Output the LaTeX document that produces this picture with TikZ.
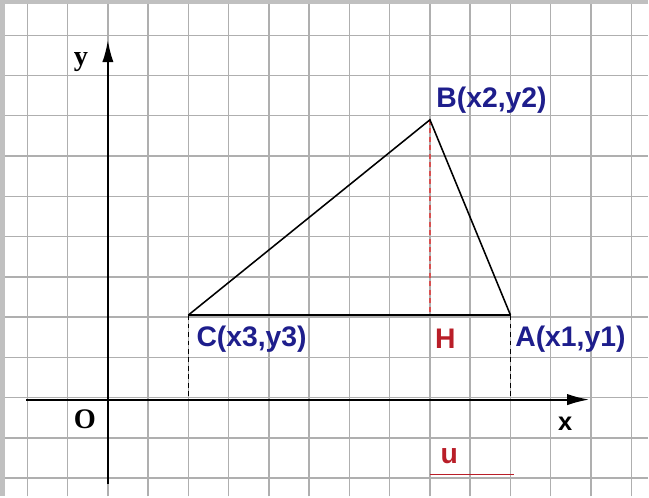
\documentclass[tikz,border=0pt]{standalone}
\usepackage{fontspec}
\setmainfont{Liberation Sans}
\newfontfamily\axisfont{Liberation Serif}
\usepackage{tikz}
\usetikzlibrary{arrows.meta}
\definecolor{gridgray}{RGB}{175,175,175}
\definecolor{framegray}{RGB}{192,192,192}
\definecolor{ptblue}{RGB}{30,30,140}
\definecolor{htred}{RGB}{185,30,40}
\definecolor{dashred}{RGB}{215,80,80}

\begin{document}
\begin{tikzpicture}[x=1cm,y=1cm,
  gridline/.style={gridgray,line width=1pt},
  axis/.style={line width=1.4pt,-{Latex[length=5.5mm,width=2.8mm]}},
  side/.style={line width=1.1pt},
  drop/.style={dash pattern=on 3.5pt off 2.5pt,line width=1.2pt},
  ptlabel/.style={ptblue,font=\fontsize{20}{24}\selectfont\bfseries,inner sep=0pt},
  redlabel/.style={htred,font=\fontsize{20}{24}\selectfont\bfseries,inner sep=0pt},
  axislabel/.style={font=\fontsize{20}{24}\selectfont\axisfont\bfseries,inner sep=0pt}]
  % paper
  \fill[framegray] (-2.68,-2.407) rectangle (13.424,9.926);
  \fill[white] (-2.556,-2.407) rectangle (13.424,9.826);
  \foreach \i in {-2,...,13}
    \draw[gridline] (\i,-2.407) -- (\i,9.826);
  \foreach \j in {-2,...,9}
    \draw[gridline] (-2.556,\j+0.05) -- (13.424,\j+0.05);
  % axes
  \coordinate (O) at (0,0);
  \coordinate (xl) at (-2.03,0);
  \coordinate (xr) at (11.96,0);
  \coordinate (yb) at (0,-2.1);
  \coordinate (yt) at (0,8.93);
  \draw[axis] (xl) -- (xr);
  \draw[axis] (yb) -- (yt);
  % triangle
  \coordinate (C) at (2,2.1);
  \coordinate (A) at (10,2.1);
  \coordinate (B) at (8,6.95);
  \coordinate (H) at (8,2.1);
  \draw[drop] (C) -- (C |- O);
  \draw[drop] (A) -- (A |- O);
  \draw[drop,dashred] (B) -- (H);
  \draw[side] (C) -- (B) -- (A);
  \draw[line width=1.4pt] (C) -- (A);
  % height
  \coordinate (U1) at (8,-1.86);
  \coordinate (U2) at (10.1,-1.86);
  \draw[htred,line width=1.1pt] (U1) -- (U2);
  % labels
  \node[axislabel] (ylab) at (-0.67,8.39) {y};
  \node[axislabel] (olab) at (-0.57,-0.5) {O};
  \node[font=\fontsize{18}{20}\selectfont\bfseries,inner sep=0pt] (xlab) at (11.36,-0.6) {x};
  \node[ptlabel] (blab) at (9.53,7.44) {B(x2,y2)};
  \node[ptlabel] (clab) at (3.57,1.49) {C(x3,y3)};
  \node[ptlabel] (alab) at (11.49,1.49) {A(x1,y1)};
  \node[redlabel] (hlab) at (8.38,1.51) {H};
  \node[redlabel] (ulab) at (8.48,-1.41) {u};
\end{tikzpicture}
\end{document}
